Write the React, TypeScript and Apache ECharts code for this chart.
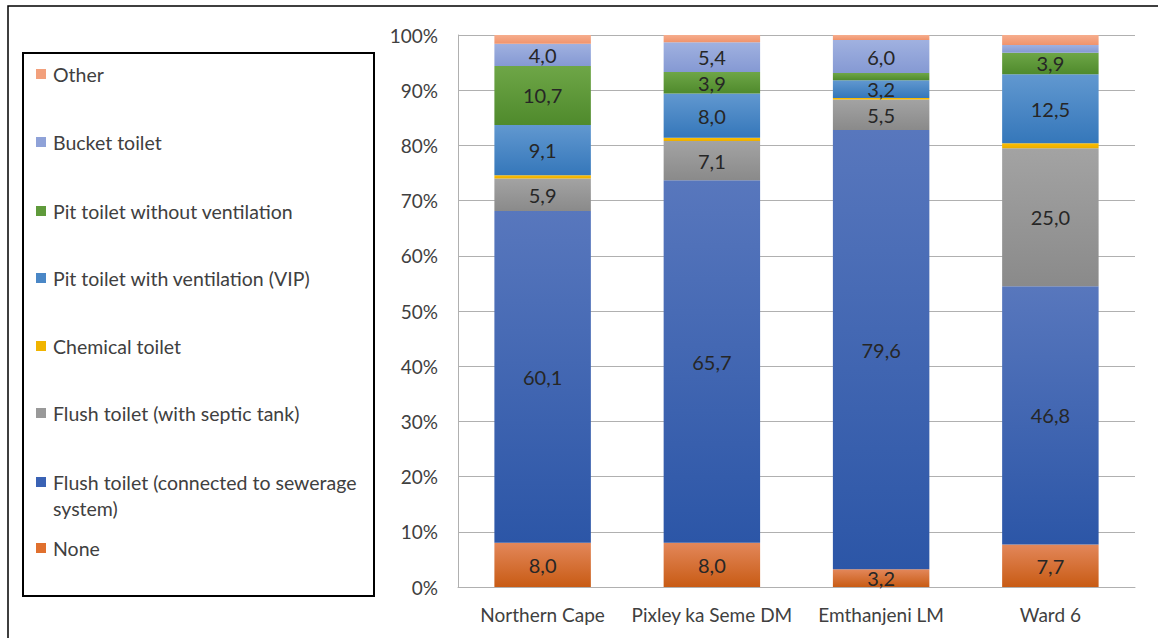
import React, { useEffect, useRef } from "react";
import * as echarts from "echarts";

const categories = ["Northern Cape", "Pixley ka Seme DM", "Emthanjeni LM", "Ward 6"];

const seriesNames = [
  "None",
  "Flush toilet (connected to sewerage system)",
  "Flush toilet (with septic tank)",
  "Chemical toilet",
  "Pit toilet with ventilation (VIP)",
  "Pit toilet without ventilation",
  "Bucket toilet",
  "Other",
];

const noneValues = [8.0, 8.0, 3.2, 7.7];
const flushSewerValues = [60.1, 65.7, 79.6, 46.8];
const flushSepticValues = [5.9, 7.1, 5.5, 25.0];
const chemicalValues = [0.6, 0.6, 0.3, 0.9];
const vipValues = [9.1, 8.0, 3.2, 12.5];
const pitNoVentValues = [10.7, 3.9, 1.3, 3.9];
const bucketValues = [4.0, 5.4, 6.0, 1.4];
const otherValues = [1.6, 1.3, 0.9, 1.8];

const seriesValues = [
  noneValues,
  flushSewerValues,
  flushSepticValues,
  chemicalValues,
  vipValues,
  pitNoVentValues,
  bucketValues,
  otherValues,
];

const yTickLabels = ["0%", "10%", "20%", "30%", "40%", "50%", "60%", "70%", "80%", "90%", "100%"];

const legendLabels = [
  "Other",
  "Bucket toilet",
  "Pit toilet without ventilation",
  "Pit toilet with ventilation (VIP)",
  "Chemical toilet",
  "Flush toilet (with septic tank)",
  "Flush toilet (connected to sewerage\nsystem)",
  "None",
];

// [top, bottom, legend]
const palette: string[][] = [
  ["#e3875a", "#c85b14", "#e0702e"],
  ["#5877bd", "#2c56a7", "#3a62b4"],
  ["#a3a3a3", "#8a8a8a", "#999999"],
  ["#ffc000", "#eaad00", "#f0b400"],
  ["#6198d0", "#3577ba", "#4a87c6"],
  ["#6ea647", "#4f8a2c", "#5f9a3b"],
  ["#a0b1e0", "#8599d3", "#8fa2d8"],
  ["#f6ad8d", "#f0936c", "#f2a07c"],
];

const FONT = "Lato, 'Open Sans', sans-serif";

export default function App() {
  const ref = useRef<HTMLDivElement>(null);

  useEffect(() => {
    document.body.style.margin = "0";
    if (!ref.current) return;
    const chart = echarts.init(ref.current, undefined, { renderer: "svg" });

    const series = seriesNames.map((name, i) => ({
      name,
      type: "bar",
      stack: "total",
      barWidth: "57%",
      data: seriesValues[i],
      itemStyle: {
        color: new echarts.graphic.LinearGradient(0, 0, 0, 1, [
          { offset: 0, color: palette[i][0] },
          { offset: 1, color: palette[i][1] },
        ]),
      },
      label: {
        show: true,
        position: "inside",
        fontFamily: FONT,
        fontSize: 20,
        color: "#262626",
        formatter: (p: any) => (p.value >= 3 ? p.value.toFixed(1).replace(".", ",") : ""),
      },
      emphasis: { disabled: true },
    }));

    const legendOrder = [7, 6, 5, 4, 3, 2, 1, 0];
    const legendY = [74, 142, 211, 278, 346, 413, 482, 548];
    const legendGraphics: any[] = [];
    legendOrder.forEach((si, k) => {
      legendGraphics.push({
        type: "rect",
        shape: { x: 36, y: legendY[k] - 5, width: 10, height: 10 },
        style: { fill: palette[si][2] },
        silent: true,
      });
      legendGraphics.push({
        type: "text",
        x: 53,
        y: legendY[k] - 13,
        style: {
          text: legendLabels[k],
          fontFamily: FONT,
          fontSize: 19.5,
          lineHeight: 26,
          fill: "#404040",
          verticalAlign: "top",
        },
        silent: true,
      });
    });

    chart.setOption({
      animation: false,
      backgroundColor: "#ffffff",
      grid: { left: 458, right: 23, top: 35, bottom: 51, containLabel: false },
      xAxis: {
        type: "category",
        data: categories,
        axisLine: { show: true, lineStyle: { color: "#b0b0b0", width: 1 } },
        axisTick: { show: false },
        axisLabel: { fontFamily: FONT, fontSize: 19, color: "#404040", margin: 18, interval: 0 },
      },
      yAxis: {
        type: "value",
        min: 0,
        max: 100,
        interval: 10,
        axisLine: { show: true, lineStyle: { color: "#b0b0b0", width: 1 } },
        axisTick: { show: false },
        splitLine: { show: true, lineStyle: { color: "#b0b0b0", width: 1 } },
        axisLabel: {
          fontFamily: FONT,
          fontSize: 19,
          color: "#404040",
          margin: 20,
          formatter: (v: number) => yTickLabels[Math.round(v / 10)],
        },
      },
      series,
      graphic: [
        {
          type: "rect",
          shape: { x: 8, y: 6, width: 1300, height: 800 },
          style: { fill: "none", stroke: "#000000", lineWidth: 1.5 },
          silent: true,
          z: 100,
        },
        {
          type: "rect",
          shape: { x: 23, y: 53, width: 351, height: 543 },
          style: { fill: "none", stroke: "#000000", lineWidth: 2 },
          silent: true,
          z: 100,
        },
        ...legendGraphics,
      ],
    });

    return () => chart.dispose();
  }, []);

  return <div ref={ref} style={{ width: 1158, height: 638 }} />;
}
